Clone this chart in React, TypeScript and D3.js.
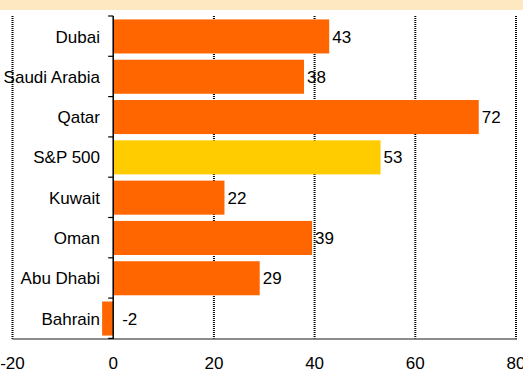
import React from "react";
import * as d3 from "d3";

const categories = ["Dubai", "Saudi Arabia", "Qatar", "S&P 500", "Kuwait", "Oman", "Abu Dhabi", "Bahrain"];
const values = [42.9, 37.9, 72.6, 53.1, 22.1, 39.5, 29.1, -2.2];
const valueLabels = ["43", "38", "72", "53", "22", "39", "29", "-2"];
const highlight = ["S&P 500"];
const xTicks = [-20, 0, 20, 40, 60, 80];

const W = 523;
const H = 374;
const left = 12.5;
const right = 516;
const top = 16;
const bottom = 339;
const FONT = "Arial, 'Liberation Sans', sans-serif";
const FS = 17;

export default function App() {
  const x = d3.scaleLinear().domain([-20, 80]).range([left, right]);
  const y = d3.scaleBand<string>().domain(categories).range([top, bottom]).paddingInner(0.155).paddingOuter(0.085);
  const x0 = x(0);
  const step = y.step();
  return (
    <svg width={W} height={H} style={{ position: "fixed", left: 0, top: 0 }} fontFamily={FONT}>
      <rect x={0} y={0} width={W} height={H} fill="#ffffff" />
      <rect x={0} y={0} width={W} height={10} fill="#FDE8C2" />
      {xTicks.filter((t) => t !== 0).map((t) => (
        <line key={t} x1={x(t)} x2={x(t)} y1={top} y2={bottom} stroke="#000" strokeWidth={2} strokeDasharray="1,1" />
      ))}
      {categories.map((c, i) => {
        const v = values[i];
        const xa = x(Math.min(0, v));
        const xb = x(Math.max(0, v));
        return (
          <rect key={c} x={xa} y={y(c)!} width={xb - xa} height={y.bandwidth()} fill={highlight.includes(c) ? "#FFCC00" : "#FF6600"} />
        );
      })}
      <line x1={left} x2={right + 1} y1={bottom} y2={bottom} stroke="#666" strokeWidth={1.5} />
      <line x1={x0} x2={x0} y1={top} y2={bottom} stroke="#000" strokeWidth={1.5} />
      {d3.range(categories.length + 1).map((i) => (
        <line key={i} x1={x0 - 5} x2={x0} y1={top + i * step} y2={top + i * step} stroke="#000" strokeWidth={1.2} />
      ))}
      {categories.map((c) => (
        <text key={c} x={100} y={y(c)! + y.bandwidth() / 2} dy="0.36em" textAnchor="end" fontSize={FS} fill="#000">
          {c}
        </text>
      ))}
      {categories.map((c, i) => {
        const v = values[i];
        return (
          <text key={c} x={x(Math.max(0, v)) + (v < 0 ? 9 : 3)} y={y(c)! + y.bandwidth() / 2} dy="0.36em" fontSize={FS} fill="#000">
            {valueLabels[i]}
          </text>
        );
      })}
      {xTicks.map((t) => (
        <text key={t} x={x(t)} y={369} textAnchor="middle" fontSize={FS} fill="#000">
          {t}
        </text>
      ))}
    </svg>
  );
}
